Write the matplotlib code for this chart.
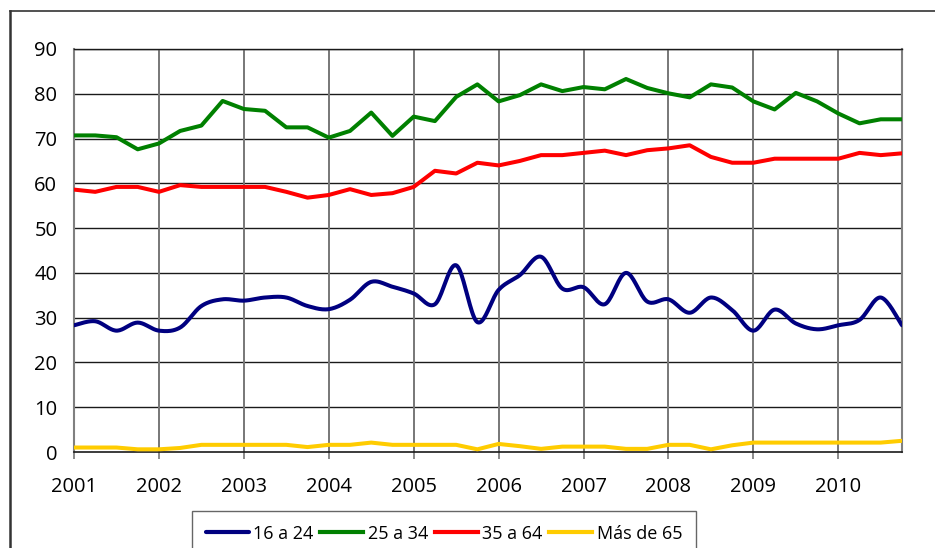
import numpy as np
import matplotlib
matplotlib.use("Agg")
import matplotlib.pyplot as plt
from matplotlib.lines import Line2D

plt.rcParams['font.family'] = ['Open Sans', 'DejaVu Sans']

years = ['2001', '2002', '2003', '2004', '2005', '2006', '2007', '2008', '2009', '2010']
series_names = ['16 a 24', '25 a 34', '35 a 64', 'Más de 65']

g16_24 = [28.3, 29.2, 27.1, 28.9, 27.1, 27.8, 32.6, 34.1, 33.8, 34.5,
          34.5, 32.6, 31.9, 34.0, 38.0, 36.9, 35.4, 33.0, 41.7, 29.0,
          36.2, 39.5, 43.6, 36.5, 36.8, 33.0, 40.0, 33.6, 34.1, 31.1,
          34.5, 31.7, 27.1, 31.8, 28.7, 27.4, 28.3, 29.5, 34.5, 28.3]
g25_34 = [70.7, 70.7, 70.3, 67.6, 68.9, 71.7, 72.9, 78.4, 76.6, 76.2,
          72.5, 72.5, 70.2, 71.7, 75.8, 70.6, 74.9, 73.9, 79.3, 82.1,
          78.3, 79.7, 82.1, 80.6, 81.5, 81.0, 83.3, 81.3, 80.1, 79.2,
          82.1, 81.4, 78.3, 76.5, 80.2, 78.3, 75.6, 73.4, 74.3, 74.3]
g35_64 = [58.6, 58.1, 59.2, 59.2, 58.1, 59.6, 59.2, 59.2, 59.2, 59.2,
          58.1, 56.8, 57.4, 58.7, 57.4, 57.8, 59.2, 62.8, 62.2, 64.6,
          64.0, 65.0, 66.3, 66.3, 66.8, 67.3, 66.3, 67.4, 67.8, 68.5,
          65.9, 64.6, 64.6, 65.5, 65.5, 65.5, 65.5, 66.8, 66.3, 66.7]
g65 = [1.0, 1.0, 1.0, 0.6, 0.6, 0.9, 1.6, 1.6, 1.6, 1.6,
       1.6, 1.1, 1.6, 1.6, 2.1, 1.6, 1.6, 1.6, 1.6, 0.6,
       1.8, 1.3, 0.7, 1.2, 1.2, 1.2, 0.7, 0.7, 1.6, 1.6,
       0.6, 1.5, 2.1, 2.1, 2.1, 2.1, 2.1, 2.1, 2.1, 2.5]

colors = ['#000080', '#008000', '#FF0000', '#FFCC00']


def smooth(xs, ys, sx=21.23, sy=4.48, n=20):
    """Excel-style smoothed line (Bezier with Catmull-Rom control points)."""
    P = np.column_stack([np.asarray(xs, float) * sx, np.asarray(ys, float) * sy])
    out = []
    for i in range(len(P) - 1):
        p0 = P[i - 1] if i > 0 else P[i]
        p1 = P[i]
        p2 = P[i + 1]
        p3 = P[i + 2] if i + 2 < len(P) else P[i + 1]
        c1 = p1 + (p2 - p0) / 6.0
        c2 = p2 - (p3 - p1) / 6.0
        t = np.linspace(0, 1, n, endpoint=(i == len(P) - 2))[:, None]
        seg = ((1 - t) ** 3) * p1 + 3 * ((1 - t) ** 2) * t * c1 + 3 * (1 - t) * t ** 2 * c2 + t ** 3 * p2
        out.append(seg)
    out = np.vstack(out)
    return out[:, 0] / sx, out[:, 1] / sy


fig = plt.figure(figsize=(9.35, 5.48), dpi=100)
ax = fig.add_axes([74 / 935, 1 - 452 / 548, (902 - 74) / 935, (452 - 49) / 548])

x = np.arange(len(g25_34))
lw = 2.9
sx_, sy_ = smooth(x, g16_24)
ax.plot(sx_, sy_, color=colors[0], lw=lw, solid_capstyle='round', solid_joinstyle='round', label=series_names[0], zorder=5)
ax.plot(x, g25_34, color=colors[1], lw=lw, solid_joinstyle='round', label=series_names[1], zorder=5)
ax.plot(x, g35_64, color=colors[2], lw=lw, solid_joinstyle='round', label=series_names[2], zorder=5)
ax.plot(x, g65, color=colors[3], lw=lw, solid_joinstyle='round', label=series_names[3], zorder=5)

ax.set_xlim(0, len(x) - 1)
ax.set_ylim(0, 90)
ax.set_yticks(np.arange(0, 91, 10))
ax.set_xticks(np.arange(0, len(x), 4))
ax.set_xticklabels(years)

for v in range(10, 91, 10):
    ax.axhline(v, color='#1a1a1a', lw=1.0, zorder=1)
for xt in np.arange(4, len(x), 4):
    ax.axvline(xt, color='#777777', lw=1.4, zorder=1)

for s in ['left', 'right']:
    ax.spines[s].set_color('#808080')
    ax.spines[s].set_linewidth(1.5)
ax.spines['bottom'].set_color('#1a1a1a')
ax.spines['bottom'].set_linewidth(1.2)
ax.spines['top'].set_color('#1a1a1a')
ax.spines['top'].set_linewidth(1.0)

ax.tick_params(axis='y', length=0, pad=12, labelsize=14.5)
ax.tick_params(axis='x', length=5, width=1.2, color='#777777', direction='out', pad=13, labelsize=14.5)

pos = ax.get_position()
cx = (444 / 935 - pos.x0) / pos.width
leg = ax.legend(loc='upper center', bbox_to_anchor=(cx, -(511 - 452) / 403),
                ncol=4, frameon=True, fancybox=False, fontsize=13.0, handlelength=2.4,
                handletextpad=0.25, columnspacing=0.35, borderpad=0.75, borderaxespad=0)
leg.get_frame().set_edgecolor('#404040')
leg.get_frame().set_linewidth(1.0)
for h in leg.get_lines():
    h.set_linewidth(3.0)

# outer chart frame
fig.add_artist(Line2D([10 / 935, 10 / 935], [0, 1 - 11 / 548], transform=fig.transFigure, color='#333333', lw=1.8))
fig.add_artist(Line2D([10 / 935, 1], [1 - 11 / 548, 1 - 11 / 548], transform=fig.transFigure, color='#333333', lw=1.2))

fig.savefig('out.png', dpi=100)
